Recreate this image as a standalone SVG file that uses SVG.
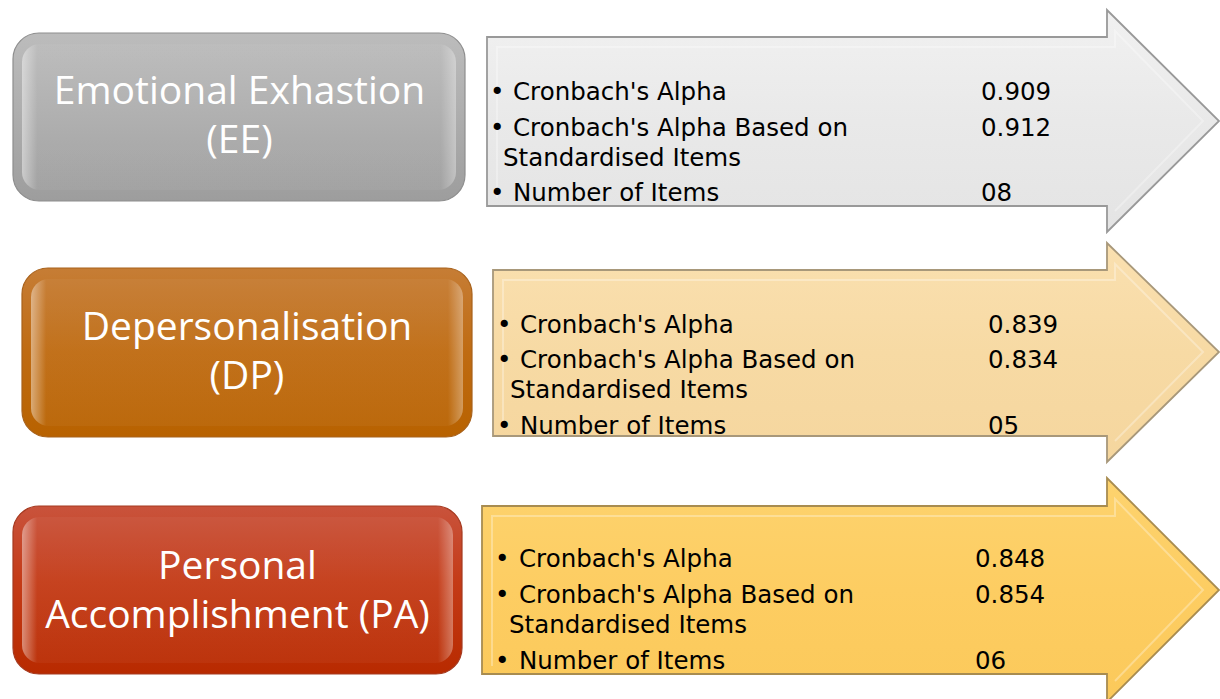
<svg xmlns="http://www.w3.org/2000/svg" width="1220" height="699" viewBox="0 0 1220 699">
<defs>
<linearGradient id="gGray" x1="0" y1="0" x2="0" y2="1">
<stop offset="0" stop-color="#bcbcbc"/><stop offset="0.5" stop-color="#adadad"/><stop offset="1" stop-color="#9d9d9d"/>
</linearGradient>
<linearGradient id="gOrange" x1="0" y1="0" x2="0" y2="1">
<stop offset="0" stop-color="#c67d35"/><stop offset="0.5" stop-color="#bf6b12"/><stop offset="1" stop-color="#b86200"/>
</linearGradient>
<linearGradient id="gRed" x1="0" y1="0" x2="0" y2="1">
<stop offset="0" stop-color="#c9533c"/><stop offset="0.45" stop-color="#c43b17"/><stop offset="1" stop-color="#b82a00"/>
</linearGradient>
<linearGradient id="gArrGray" x1="0" y1="0" x2="0" y2="1">
<stop offset="0" stop-color="#f1f1f1"/><stop offset="0.5" stop-color="#e9e9e9"/><stop offset="1" stop-color="#e4e4e4"/>
</linearGradient>
<linearGradient id="gArrPeach" x1="0" y1="0" x2="0" y2="1">
<stop offset="0" stop-color="#fae0b0"/><stop offset="0.5" stop-color="#f7daa4"/><stop offset="1" stop-color="#f5d69e"/>
</linearGradient>
<linearGradient id="gArrGold" x1="0" y1="0" x2="0" y2="1">
<stop offset="0" stop-color="#fdd36e"/><stop offset="0.5" stop-color="#fdcd62"/><stop offset="1" stop-color="#fbc95a"/>
</linearGradient>
<linearGradient id="gShine" x1="0" y1="0" x2="1" y2="0">
<stop offset="0" stop-color="#ffffff" stop-opacity="0.45"/><stop offset="0.035" stop-color="#ffffff" stop-opacity="0.04"/><stop offset="0.965" stop-color="#ffffff" stop-opacity="0.04"/><stop offset="1" stop-color="#ffffff" stop-opacity="0.35"/>
</linearGradient>
<clipPath id="c1"><polygon points="487,37 1107,37 1107,10 1219,121 1107,232 1107,206 487,206"/></clipPath>
<clipPath id="c2"><polygon points="493,270 1107,270 1107,243 1219,352 1107,462 1107,436 493,436"/></clipPath>
<clipPath id="c3"><polygon points="482,506 1107,506 1107,478 1219,590 1107,702 1107,674 482,674"/></clipPath>
</defs>
<style>
.lbl{font-family:"Open Sans","Noto Sans",sans-serif;font-size:39px;fill:#ffffff;text-anchor:middle}
.txt{font-family:"DejaVu Sans","Verdana",sans-serif;font-size:24.5px;fill:#000000}
.box{stroke-width:1.2}
.arr{stroke-width:1.8}
.bevel{fill:none;stroke:#ffffff;stroke-opacity:0.3;stroke-width:2}
.shine{fill:url(#gShine);stroke:none}
</style>

<g id="connectors"></g>

<g id="node-ee">
<rect class="box" x="13" y="33" width="452" height="168" rx="26" fill="url(#gGray)" stroke="#8e8e8e"/>
<rect class="shine" x="22" y="44" width="434" height="146" rx="18"/>
<text class="lbl" x="239.5" y="104">Emotional Exhastion</text>
<text class="lbl" x="239.5" y="153">(EE)</text>
</g>

<g id="arrow-ee">
<polygon class="arr" points="487,37 1107,37 1107,10 1219,121 1107,232 1107,206 487,206" fill="url(#gArrGray)" stroke="#999999"/>
<polyline class="bevel" points="497,198 497,47 1115,47 1115,31 1203,121 1115,211"/>
<g clip-path="url(#c1)">
<text class="txt" x="490" y="100">•</text><text class="txt" x="513" y="100">Cronbach's Alpha</text>
<text class="txt" x="490" y="136">•</text><text class="txt" x="513" y="136">Cronbach's Alpha Based on</text>
<text class="txt" x="503" y="166">Standardised Items</text>
<text class="txt" x="490" y="201">•</text><text class="txt" x="513" y="201">Number of Items</text>
<text class="txt" x="981" y="100">0.909</text>
<text class="txt" x="981" y="136">0.912</text>
<text class="txt" x="981" y="201">08</text>
</g>
</g>

<g id="node-dp">
<rect class="box" x="22" y="268" width="450" height="169" rx="26" fill="url(#gOrange)" stroke="#a8621c"/>
<rect class="shine" x="31" y="279" width="432" height="147" rx="18"/>
<text class="lbl" x="247" y="340">Depersonalisation</text>
<text class="lbl" x="247" y="389">(DP)</text>
</g>

<g id="arrow-dp">
<polygon class="arr" points="493,270 1107,270 1107,243 1219,352 1107,462 1107,436 493,436" fill="url(#gArrPeach)" stroke="#a8987a"/>
<polyline class="bevel" points="503,428 503,280 1115,280 1115,264 1203,352 1115,441"/>
<g clip-path="url(#c2)">
<text class="txt" x="497" y="333">•</text><text class="txt" x="520" y="333">Cronbach's Alpha</text>
<text class="txt" x="497" y="368">•</text><text class="txt" x="520" y="368">Cronbach's Alpha Based on</text>
<text class="txt" x="510" y="398">Standardised Items</text>
<text class="txt" x="497" y="434">•</text><text class="txt" x="520" y="434">Number of Items</text>
<text class="txt" x="988" y="333">0.839</text>
<text class="txt" x="988" y="368">0.834</text>
<text class="txt" x="988" y="434">05</text>
</g>
</g>

<g id="node-pa">
<rect class="box" x="13" y="506" width="449" height="168" rx="26" fill="url(#gRed)" stroke="#a53a20"/>
<rect class="shine" x="22" y="517" width="431" height="146" rx="18"/>
<text class="lbl" x="237.5" y="579">Personal</text>
<text class="lbl" x="237.5" y="628">Accomplishment (PA)</text>
</g>

<g id="arrow-pa">
<polygon class="arr" points="482,506 1107,506 1107,478 1219,590 1107,702 1107,674 482,674" fill="url(#gArrGold)" stroke="#a88c50"/>
<polyline class="bevel" points="492,666 492,516 1115,516 1115,499 1203,590 1115,681"/>
<g clip-path="url(#c3)">
<text class="txt" x="495" y="567">•</text><text class="txt" x="519" y="567">Cronbach's Alpha</text>
<text class="txt" x="495" y="603">•</text><text class="txt" x="519" y="603">Cronbach's Alpha Based on</text>
<text class="txt" x="509" y="633">Standardised Items</text>
<text class="txt" x="495" y="669">•</text><text class="txt" x="519" y="669">Number of Items</text>
<text class="txt" x="975" y="567">0.848</text>
<text class="txt" x="975" y="603">0.854</text>
<text class="txt" x="975" y="669">06</text>
</g>
</g>
</svg>
